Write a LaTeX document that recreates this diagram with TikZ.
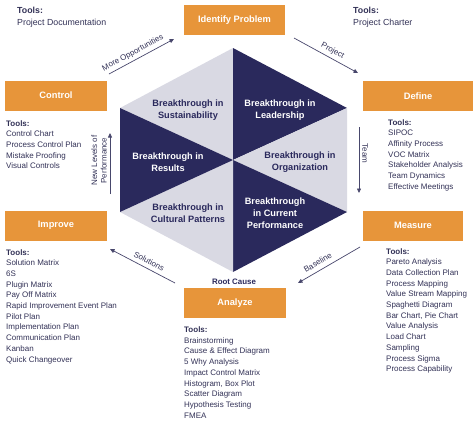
\documentclass[tikz,border=0pt]{standalone}
\usepackage{fontspec}
\setmainfont{Liberation Sans}
\usetikzlibrary{arrows.meta}
\definecolor{dmaicorange}{RGB}{231,149,58}
\definecolor{hexnavy}{RGB}{42,41,92}
\definecolor{hexgray}{RGB}{217,217,227}
\definecolor{toolink}{RGB}{50,49,86}
\definecolor{arrowgray}{RGB}{72,71,108}

\begin{document}
\begin{tikzpicture}[x=1pt, y=-1pt,
  phase/.style={fill=dmaicorange, text=white, inner sep=0pt,
                minimum height=30pt, font=\fontsize{9.3}{11}\selectfont\bfseries},
  tools/.style={anchor=north west, align=left, inner sep=0pt, text=toolink,
                font=\fontsize{8}{10.7}\selectfont},
  toptools/.style={tools, font=\fontsize{8.8}{11.7}\selectfont},
  hexlight/.style={align=center, text=hexnavy, font=\fontsize{9.2}{12}\selectfont\bfseries},
  hexdark/.style={hexlight, text=white},
  flow/.style={-{Triangle[length=4.5pt,width=4pt]}, arrowgray, line width=0.7pt},
  flowback/.style={{Triangle[length=4.5pt,width=4pt]}-, arrowgray, line width=0.7pt},
  flowlbl/.style={sloped, above, text=toolink, inner sep=3pt,
                  font=\fontsize{8}{9.5}\selectfont}
]
\useasboundingbox (0,0) rectangle (474,424);

%% ---------- HEXAGON ----------
\coordinate (hc) at (233,160);
\coordinate (h1) at (233,48);
\coordinate (h2) at (347,108);
\coordinate (h3) at (347,212);
\coordinate (h4) at (233,272);
\coordinate (h5) at (120,212);
\coordinate (h6) at (120,108);
\fill[hexgray] (hc) -- (h6) -- (h1) -- cycle;
\fill[hexnavy] (hc) -- (h1) -- (h2) -- cycle;
\fill[hexgray] (hc) -- (h2) -- (h3) -- cycle;
\fill[hexnavy] (hc) -- (h3) -- (h4) -- cycle;
\fill[hexgray] (hc) -- (h4) -- (h5) -- cycle;
\fill[hexnavy] (hc) -- (h5) -- (h6) -- cycle;

\node[hexlight] (sus) at (188,110) {Breakthrough in\\Sustainability};
\node[hexdark]  (lea) at (280,110) {Breakthrough in\\Leadership};
\node[hexdark]  (res) at (168,162) {Breakthrough in\\Results};
\node[hexlight] (org) at (300,162) {Breakthrough in\\Organization};
\node[hexlight] (cul) at (188,213) {Breakthrough in\\Cultural Patterns};
\node[hexdark]  (cur) at (275,213) {Breakthrough\\in Current\\Performance};

%% ---------- PHASE BOXES ----------
\node[phase, minimum width=101pt] (idp) at (234.5,20)  {Identify Problem};
\node[phase, minimum width=110pt] (def) at (418,96)    {Define};
\node[phase, minimum width=100pt] (msr) at (413,225.5) {Measure};
\node[phase, minimum width=102pt] (anl) at (235,303)   {Analyze};
\node[phase, minimum width=102pt] (imp) at (56,225.5)  {Improve};
\node[phase, minimum width=102pt] (ctl) at (56,95.5)   {Control};

\node[text=hexnavy, font=\fontsize{7.9}{9}\selectfont\bfseries] (rc) at (234,282) {Root Cause};

%% ---------- TOOLS ----------
\node[toptools] (idpt) at (17,7) {\textbf{Tools:}\\Project Documentation};
\node[toptools] (prjt) at (353,7) {\textbf{Tools:}\\Project Charter};
\node[tools] (ctlt) at (6,120) {\textbf{Tools:}\\Control Chart\\Process Control Plan\\Mistake Proofing\\Visual Controls};
\node[tools] (deft) at (388,119) {\textbf{Tools:}\\SIPOC\\Affinity Process\\VOC Matrix\\Stakeholder Analysis\\Team Dynamics\\Effective Meetings};
\node[tools] (impt) at (6,249) {\textbf{Tools:}\\Solution Matrix\\6S\\Plugin Matrix\\Pay Off Matrix\\Rapid Improvement Event Plan\\Pilot Plan\\Implementation Plan\\Communication Plan\\Kanban\\Quick Changeover};
\node[tools] (msrt) at (386,248) {\textbf{Tools:}\\Pareto Analysis\\Data Collection Plan\\Process Mapping\\Value Stream Mapping\\Spaghetti Diagram\\Bar Chart, Pie Chart\\Value Analysis\\Load Chart\\Sampling\\Process Sigma\\Process Capability};
\node[tools] (anlt) at (184,326.5) {\textbf{Tools:}\\Brainstorming\\Cause \& Effect Diagram\\5 Why Analysis\\Impact Control Matrix\\Histogram, Box Plot\\Scatter Diagram\\Hypothesis Testing\\FMEA};

%% ---------- CYCLE ARROWS ----------
\coordinate (moS) at (109,74);  \coordinate (moE) at (174,39);
\coordinate (prS) at (294,38);  \coordinate (prE) at (358,73);
\coordinate (tmS) at (359,127); \coordinate (tmE) at (359,193);
\coordinate (blS) at (360,247); \coordinate (blE) at (298,283);
\coordinate (soS) at (175,283); \coordinate (soE) at (110,249);
\coordinate (nlS) at (110,194); \coordinate (nlE) at (110,133);

\draw[flow] (moS) -- node[flowlbl, pos=0.42]{More Opportunities} (moE);
\draw[flow] (prS) -- node[flowlbl, pos=0.55]{Project} (prE);
\draw[flow] (tmS) -- node[flowlbl, pos=0.4]{Team} (tmE);
\draw[flowback] (blE) -- node[flowlbl, pos=0.38, inner sep=4.5pt]{Baseline} (blS);
\draw[flowback] (soE) -- node[flowlbl, pos=0.55, inner sep=4pt]{Solutions} (soS);
\draw[flow] (nlS) -- node[flowlbl, pos=0.55, align=center]{New Levels of\\Performance} (nlE);

\end{tikzpicture}
\end{document}
